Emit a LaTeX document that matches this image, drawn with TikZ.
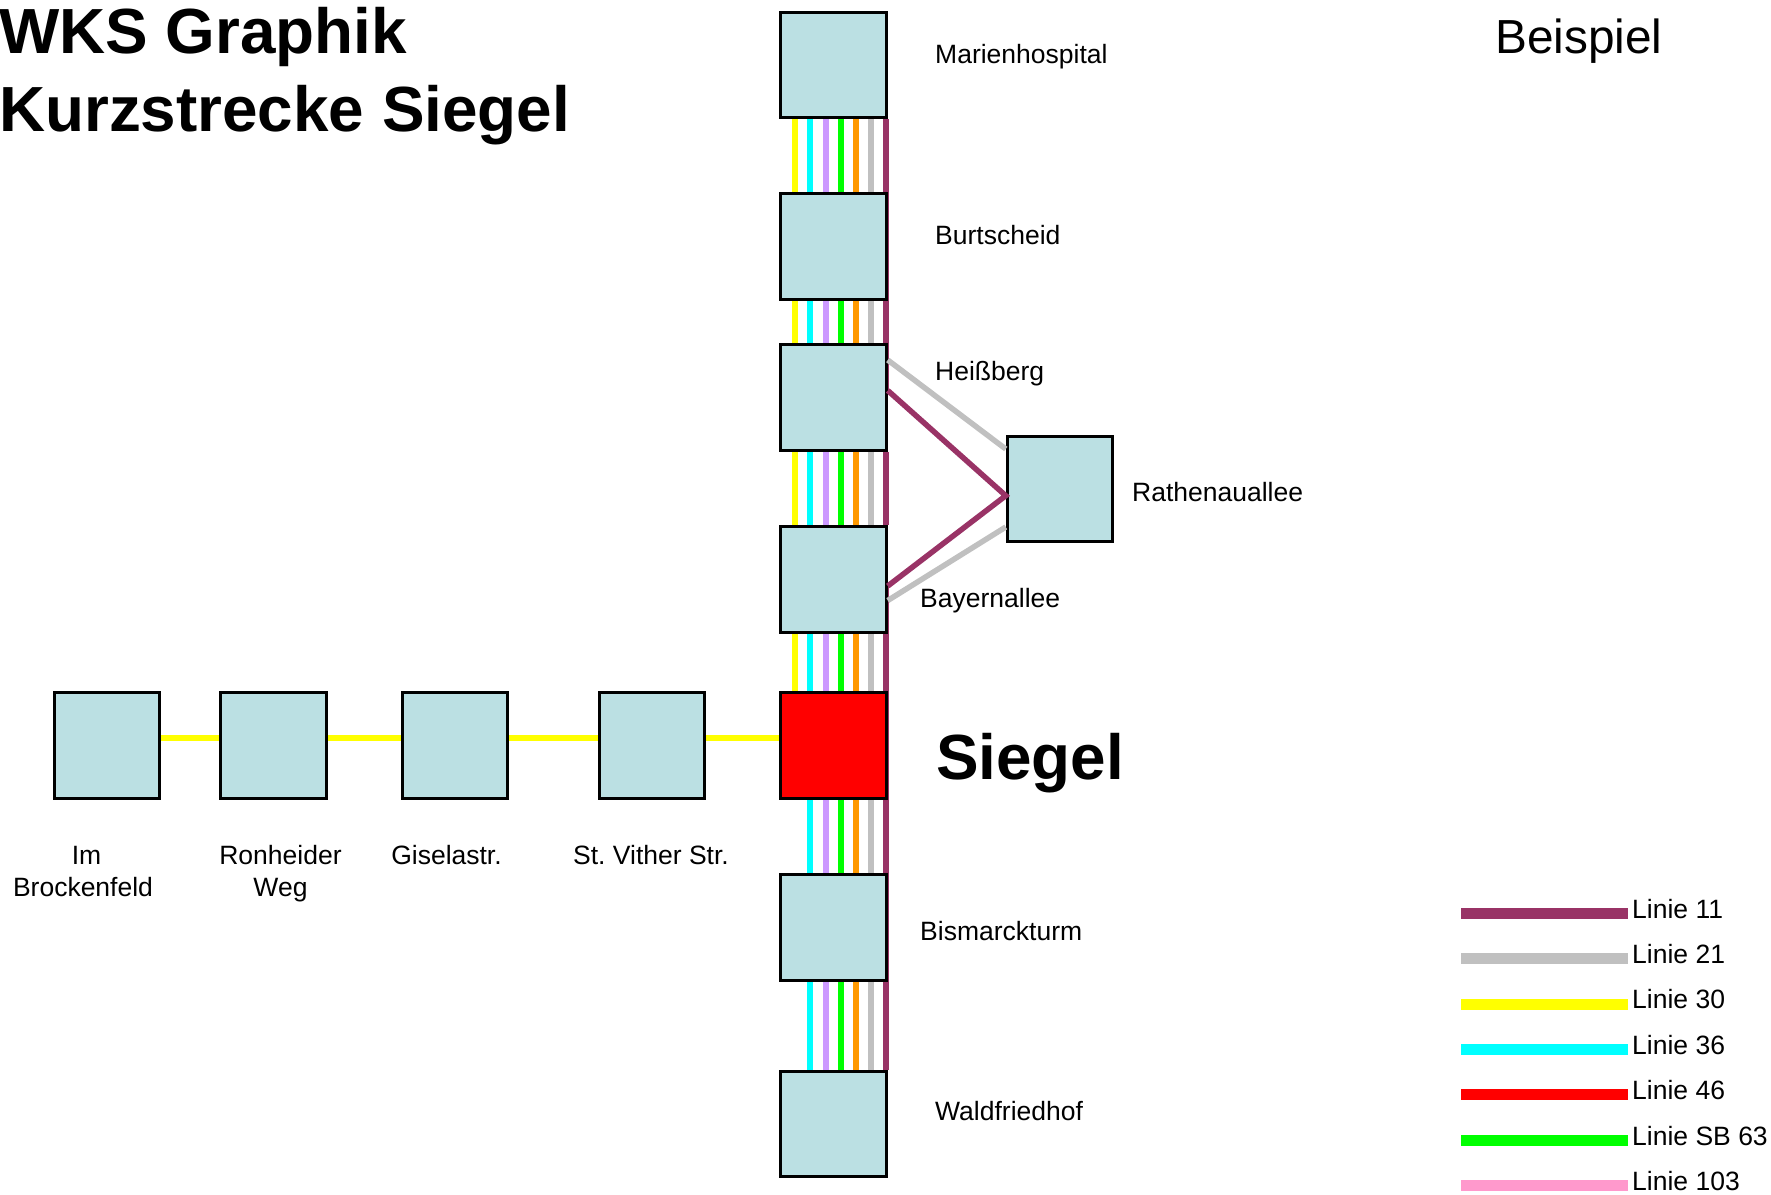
\documentclass[tikz,border=0pt]{standalone}
\usepackage{fontspec}
\setmainfont{Liberation Sans}
\usepackage{xcolor}
\usetikzlibrary{
    backgrounds
}
\definecolor{kasten}{HTML}{BBE0E3}
\definecolor{farbe11}{HTML}{993366}
\definecolor{farbe21}{HTML}{C0C0C0}
\definecolor{farbe30}{HTML}{FFFF00}
\definecolor{farbe36}{HTML}{00FFFF}
\definecolor{farbe46}{HTML}{FF0000}
\definecolor{farbe63}{HTML}{00FF00}
\definecolor{farbe103}{HTML}{FF99CC}
\definecolor{farbe5}{HTML}{CC99FF}
\definecolor{farbe6}{HTML}{FF9900}
\tikzset{
    halt/.style={draw=black, fill=kasten, line width=3pt, minimum size=105.5pt, inner sep=0pt},
    name text/.style={inner sep=0pt, anchor=base west, font=\fontsize{26.5}{31.6}\selectfont},
    unter text/.style={inner sep=0pt, anchor=base, align=center, font=\fontsize{26.5}{31.6}\selectfont},
    gross text/.style={inner sep=0pt, anchor=base west, font=\fontsize{63.8}{70}\selectfont\bfseries},
    linie/.style={line width=6pt},
    schraeg/.style={line width=5.5pt},
    legende/.style={line width=11pt}
}
\begin{document}
\frenchspacing
\begin{tikzpicture}[x=1pt, y=-1pt]
            \useasboundingbox (0,0) rectangle (1771,1194);

            \node[halt] (marien) at (833.5, 65) {};
            \node[halt] (burt) at (833.5, 246.5) {};
            \node[halt] (heiss) at (833.5, 397.5) {};
            \node[halt] (bayern) at (833.5, 579.5) {};
            \node[halt, fill=farbe46] (siegel) at (833.5, 745.5) {};
            \node[halt] (bismarck) at (833.5, 927.5) {};
            \node[halt] (wald) at (833.5, 1124) {};
            \node[halt] (rathenau) at (1060, 489) {};

            \node[halt] (brocken) at (107, 745.5) {};
            \node[halt] (ronheide) at (273.5, 745.5) {};
            \node[halt] (gisela) at (455, 745.5) {};
            \node[halt] (vither) at (652, 745.5) {};

            \begin{pgfonlayer}{background}
            \draw[linie, farbe30] ([xshift=-38.8pt]marien.south)--([xshift=-38.8pt]burt.north);
            \draw[linie, farbe36] ([xshift=-23.5pt]marien.south)--([xshift=-23.5pt]burt.north);
            \draw[linie, farbe5] ([xshift=-7.5pt]marien.south)--([xshift=-7.5pt]burt.north);
            \draw[linie, farbe63] ([xshift=7.2pt]marien.south)--([xshift=7.2pt]burt.north);
            \draw[linie, farbe6] ([xshift=22.5pt]marien.south)--([xshift=22.5pt]burt.north);
            \draw[linie, farbe21] ([xshift=37.5pt]marien.south)--([xshift=37.5pt]burt.north);

            \draw[linie, farbe30] ([xshift=-38.8pt]burt.south)--([xshift=-38.8pt]heiss.north);
            \draw[linie, farbe36] ([xshift=-23.5pt]burt.south)--([xshift=-23.5pt]heiss.north);
            \draw[linie, farbe5] ([xshift=-7.5pt]burt.south)--([xshift=-7.5pt]heiss.north);
            \draw[linie, farbe63] ([xshift=7.2pt]burt.south)--([xshift=7.2pt]heiss.north);
            \draw[linie, farbe6] ([xshift=22.5pt]burt.south)--([xshift=22.5pt]heiss.north);
            \draw[linie, farbe21] ([xshift=37.5pt]burt.south)--([xshift=37.5pt]heiss.north);

            \draw[linie, farbe30] ([xshift=-38.8pt]heiss.south)--([xshift=-38.8pt]bayern.north);
            \draw[linie, farbe36] ([xshift=-23.5pt]heiss.south)--([xshift=-23.5pt]bayern.north);
            \draw[linie, farbe5] ([xshift=-7.5pt]heiss.south)--([xshift=-7.5pt]bayern.north);
            \draw[linie, farbe63] ([xshift=7.2pt]heiss.south)--([xshift=7.2pt]bayern.north);
            \draw[linie, farbe6] ([xshift=22.5pt]heiss.south)--([xshift=22.5pt]bayern.north);
            \draw[linie, farbe21] ([xshift=37.5pt]heiss.south)--([xshift=37.5pt]bayern.north);

            \draw[linie, farbe30] ([xshift=-38.8pt]bayern.south)--([xshift=-38.8pt]siegel.north);
            \draw[linie, farbe36] ([xshift=-23.5pt]bayern.south)--([xshift=-23.5pt]siegel.north);
            \draw[linie, farbe5] ([xshift=-7.5pt]bayern.south)--([xshift=-7.5pt]siegel.north);
            \draw[linie, farbe63] ([xshift=7.2pt]bayern.south)--([xshift=7.2pt]siegel.north);
            \draw[linie, farbe6] ([xshift=22.5pt]bayern.south)--([xshift=22.5pt]siegel.north);
            \draw[linie, farbe21] ([xshift=37.5pt]bayern.south)--([xshift=37.5pt]siegel.north);

            \draw[linie, farbe36] ([xshift=-23.5pt]siegel.south)--([xshift=-23.5pt]bismarck.north);
            \draw[linie, farbe5] ([xshift=-7.5pt]siegel.south)--([xshift=-7.5pt]bismarck.north);
            \draw[linie, farbe63] ([xshift=7.2pt]siegel.south)--([xshift=7.2pt]bismarck.north);
            \draw[linie, farbe6] ([xshift=22.5pt]siegel.south)--([xshift=22.5pt]bismarck.north);
            \draw[linie, farbe21] ([xshift=37.5pt]siegel.south)--([xshift=37.5pt]bismarck.north);

            \draw[linie, farbe36] ([xshift=-23.5pt]bismarck.south)--([xshift=-23.5pt]wald.north);
            \draw[linie, farbe5] ([xshift=-7.5pt]bismarck.south)--([xshift=-7.5pt]wald.north);
            \draw[linie, farbe63] ([xshift=7.2pt]bismarck.south)--([xshift=7.2pt]wald.north);
            \draw[linie, farbe6] ([xshift=22.5pt]bismarck.south)--([xshift=22.5pt]wald.north);
            \draw[linie, farbe21] ([xshift=37.5pt]bismarck.south)--([xshift=37.5pt]wald.north);

            \draw[linie, farbe11] ([xshift=52.5pt]marien.south)--([xshift=52.5pt, yshift=7pt]heiss.center);
            \draw[linie, farbe11] ([xshift=52.5pt]heiss.south)--([xshift=52.5pt]bayern.north);
            \draw[linie, farbe11] ([xshift=52.5pt, yshift=-6.5pt]bayern.center)--([xshift=52.5pt]wald.north);
            \end{pgfonlayer}

            \draw[schraeg, farbe21] ([yshift=37.5pt]heiss.east)--([yshift=40pt]rathenau.west);
            \draw[schraeg, farbe21] ([yshift=-21pt]bayern.east)--([yshift=-38pt]rathenau.west);
            \draw[schraeg, farbe11] ([yshift=7pt]heiss.east)--([yshift=-6.7pt]rathenau.west)--([yshift=-6.5pt]bayern.east);

            \draw[linie, farbe30] ([yshift=7.5pt]brocken.east)--([yshift=7.5pt]ronheide.west);
            \draw[linie, farbe30] ([yshift=7.5pt]ronheide.east)--([yshift=7.5pt]gisela.west);
            \draw[linie, farbe30] ([yshift=7.5pt]gisela.east)--([yshift=7.5pt]vither.west);
            \draw[linie, farbe30] ([yshift=7.5pt]vither.east)--([yshift=7.5pt]siegel.west);

            \node[gross text] (titel1) at (-1, 53.5) {WKS Graphik};
            \node[gross text] (titel2) at (-1, 131) {Kurzstrecke Siegel};
            \node[gross text] (siegeltext) at (936, 779) {Siegel};
            \node[name text, font=\fontsize{47.8}{54}\selectfont] (beispiel) at (1495, 53) {Beispiel};

            \node[name text] (mariental) at (935, 63) {Marienhospital};
            \node[name text] (burttext) at (935, 244) {Burtscheid};
            \node[name text] (heisstext) at (935, 380) {Heißberg};
            \node[name text] (bayerntext) at (920, 607) {Bayernallee};
            \node[name text] (rathenautext) at (1132, 501) {Rathenauallee};
            \node[name text] (bismarcktext) at (920, 940) {Bismarckturm};
            \node[name text] (waldtext) at (935, 1120) {Waldfriedhof};

            \node[unter text] (brockentext) at (83, 896) {\hspace*{7pt}Im\\Brockenfeld};
            \node[unter text] (ronheidetext) at (280.5, 896) {Ronheider\\Weg};
            \node[unter text] (giselatext) at (446.5, 864) {Giselastr.};
            \node[unter text] (vithertext) at (651, 864) {St. Vither Str.};

            \coordinate (a11) at (1461, 913.3);
            \coordinate (b11) at (1628, 913.3);
            \coordinate (a21) at (1461, 958.3);
            \coordinate (b21) at (1628, 958.3);
            \coordinate (a30) at (1461, 1004.3);
            \coordinate (b30) at (1628, 1004.3);
            \coordinate (a36) at (1461, 1049.3);
            \coordinate (b36) at (1628, 1049.3);
            \coordinate (a46) at (1461, 1094.3);
            \coordinate (b46) at (1628, 1094.3);
            \coordinate (a63) at (1461, 1140.3);
            \coordinate (b63) at (1628, 1140.3);
            \coordinate (a103) at (1461, 1185.3);
            \coordinate (b103) at (1628, 1185.3);

            \draw[legende, farbe11] (a11)--(b11);
            \draw[legende, farbe21] (a21)--(b21);
            \draw[legende, farbe30] (a30)--(b30);
            \draw[legende, farbe36] (a36)--(b36);
            \draw[legende, farbe46] (a46)--(b46);
            \draw[legende, farbe63] (a63)--(b63);
            \draw[legende, farbe103] (a103)--(b103);

            \node[name text] (text11) at (1632, 918.5) {Linie 11};
            \node[name text] (text21) at (1632, 963.5) {Linie 21};
            \node[name text] (text30) at (1632, 1008.5) {Linie 30};
            \node[name text] (text36) at (1632, 1054.5) {Linie 36};
            \node[name text] (text46) at (1632, 1099.5) {Linie 46};
            \node[name text] (text63) at (1632, 1145.5) {Linie SB 63};
            \node[name text] (text103) at (1632, 1190.5) {Linie 103};
            \end{tikzpicture}
\end{document}
